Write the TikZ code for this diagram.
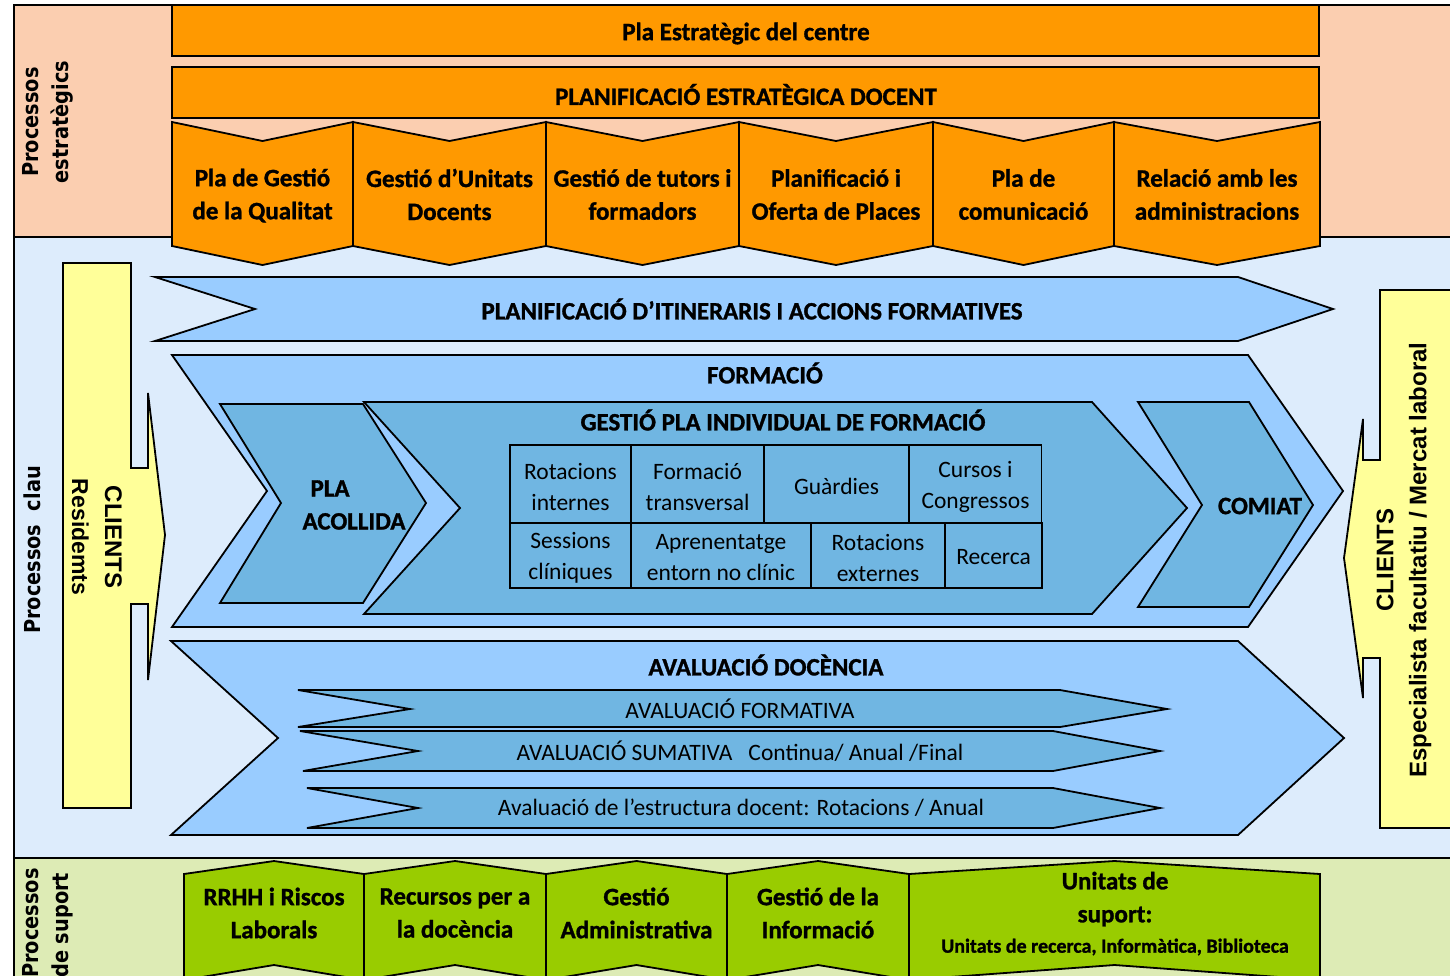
\documentclass[tikz,border=0pt]{standalone}
\usepackage{fontspec}
\setmainfont{Carlito}[BoldFeatures={FakeBold=1.2}]
\newfontfamily\sidefont{DejaVu Sans}[FakeStretch=0.88]
\newfontfamily\arialfont{Liberation Sans}

\definecolor{peach}{RGB}{251,206,176}
\definecolor{orangebar}{RGB}{255,153,0}
\definecolor{keybg}{RGB}{221,236,252}
\definecolor{lightchev}{RGB}{153,204,255}
\definecolor{darkchev}{RGB}{112,182,226}
\definecolor{clientyellow}{RGB}{255,255,153}
\definecolor{supportbg}{RGB}{221,235,181}
\definecolor{supportgreen}{RGB}{153,204,0}

\tikzset{
  shapeline/.style={draw=black, line width=1.8pt, line join=miter},
  orangeshape/.style={shapeline, fill=orangebar},
  greenshape/.style={shapeline, fill=supportgreen},
  lightshape/.style={shapeline, fill=lightchev},
  darkshape/.style={shapeline, fill=darkchev},
  yellowshape/.style={shapeline, fill=clientyellow},
  boldtext/.style={font=\fontsize{25}{33}\selectfont\bfseries, align=center, inner sep=0pt},
  regtext/.style={font=\fontsize{23.5}{31}\selectfont, align=center, inner sep=0pt},
  smalltext/.style={font=\fontsize{20}{24}\selectfont\bfseries, align=center, inner sep=0pt},
  sidelabel/.style={font=\sidefont\fontsize{22}{30}\selectfont\bfseries, align=center, inner sep=0pt},
  clientlabel/.style={font=\arialfont\fontsize{24}{33}\selectfont\bfseries, align=center, inner sep=0pt},
  bar/.style={shapeline, fill=orangebar, minimum width=1147pt, minimum height=51pt,
    inner sep=0pt, outer sep=0pt},
  cell/.style={draw=black, line width=1.8pt, inner sep=0pt, outer sep=0pt},
}

% down-pointing chevron of the strategic row
\newcommand\dnchev[2]{\filldraw[orangeshape] (#1,122) -- ({(#1+#2)/2},141) -- (#2,122)
  -- (#2,246) -- ({(#1+#2)/2},265) -- (#1,246) -- cycle;}
% up-pointing chevron of the support row
\newcommand\upchev[2]{\filldraw[greenshape] (#1,874) -- ({(#1+#2)/2},861) -- (#2,874)
  -- (#2,980) -- ({(#1+#2)/2},965) -- (#1,980) -- cycle;}

\begin{document}
\begin{tikzpicture}[x=1pt,y=-1pt]
\useasboundingbox (0,0) rectangle (1450,975);
\clip (0,0) rectangle (1450,975);
\fill[white] (0,0) rectangle (1450,975);

% process bands
\fill[peach] (14,5) rectangle (1460,237);
\fill[keybg] (14,237) rectangle (1460,858);
\fill[supportbg] (14,858) rectangle (1460,985);
\draw[line width=2pt] (1460,5) -- (14,5) -- (14,985);
\draw[line width=2pt] (14,237) -- (1460,237);
\draw[line width=2pt] (14,858) -- (1460,858);

% strategic processes
\node[bar] (plaest) at (745.5,30.5) {};
\node[boldtext] (plaesttxt) at (746,33.5) {Pla Estratègic del centre};
\node[bar] (planest) at (745.5,92.5) {};
\node[boldtext] (planesttxt) at (746,94.5) {PLANIFICACIÓ ESTRATÈGICA DOCENT};

\dnchev{172}{353}
\dnchev{353}{546}
\dnchev{546}{739}
\dnchev{739}{933}
\dnchev{933}{1114}
\dnchev{1114}{1320}
\node[boldtext] (sq1) at (262.5,195.5) {Pla de Gestió\\de la Qualitat};
\node[boldtext] (sq2) at (449.5,194.5) {Gestió d’Unitats\\Docents};
\node[boldtext] (sq3) at (642.5,194.5) {Gestió de tutors i\\formadors};
\node[boldtext] (sq4) at (836,194.5) {Planificació i\\Oferta de Places};
\node[boldtext] (sq5) at (1023.5,194.5) {Pla de\\comunicació};
\node[boldtext] (sq6) at (1217,194.5) {Relació amb les\\administracions};

\node[sidelabel, rotate=90] (lblest) at (48,122) {Processos\\estratègics};

% key processes
\node[sidelabel, rotate=90] (lblclau) at (32,550) {Processos\ \ clau};

\filldraw[yellowshape] (63,263) -- (131,263) -- (131,468) -- (148,468) -- (148,393)
  -- (165,535) -- (148,680) -- (148,604) -- (131,604) -- (131,808) -- (63,808) -- cycle;
\node[clientlabel, rotate=-90] (clientin) at (97,537) {CLIENTS\\{\fontsize{23}{33}\selectfont\bfseries Residemts}};

\filldraw[yellowshape] (1380,290) -- (1460,290) -- (1460,828) -- (1380,828) -- (1380,658)
  -- (1363,658) -- (1363,698) -- (1344,558) -- (1363,419) -- (1363,460) -- (1380,460) -- cycle;
\node[clientlabel, rotate=90] (clientout) at (1404,560) {CLIENTS\\Especialista facultatiu / Mercat laboral};

\filldraw[lightshape] (155,277) -- (1238,277) -- (1333,309) -- (1238,341) -- (155,341) -- (255,309) -- cycle;
\node[boldtext] (planif) at (752,309) {PLANIFICACIÓ D’ITINERARIS I ACCIONS FORMATIVES};

\filldraw[lightshape] (172,355) -- (1248,355) -- (1343,491) -- (1248,627) -- (172,627) -- (267,491) -- cycle;
\node[boldtext] (formacio) at (765,373) {FORMACIÓ};

\filldraw[darkshape] (220,404) -- (363,404) -- (426,503) -- (363,603) -- (220,603) -- (281,503) -- cycle;
\node[boldtext, align=left] (acollida) at (354,505) {\hspace{8pt}PLA\\ACOLLIDA};

\filldraw[darkshape] (364,402) -- (1092,402) -- (1187,508) -- (1092,614) -- (364,614) -- (460,508) -- cycle;
\node[boldtext] (gestio) at (783,420) {GESTIÓ PLA INDIVIDUAL DE FORMACIÓ};

\filldraw[darkshape] (1138,402) -- (1249,402) -- (1313,505) -- (1249,607) -- (1138,607) -- (1202,505) -- cycle;
\node[boldtext] (comiat) at (1260,506) {COMIAT};

% activities of the individual plan: cell frames, then their labels
\node[cell, minimum width=121pt, minimum height=78pt] (rotint) at (570.5,484) {};
\node[cell, minimum width=133pt, minimum height=78pt] (ftrans) at (697.5,484) {};
\node[cell, minimum width=145pt, minimum height=78pt] (guard) at (836.5,484) {};
\node[cell, minimum width=132pt, minimum height=78pt] (cursos) at (975.5,484) {};
\node[cell, minimum width=121pt, minimum height=65pt] (sess) at (570.5,555.5) {};
\node[cell, minimum width=180pt, minimum height=65pt] (aprent) at (721,555.5) {};
\node[cell, minimum width=134pt, minimum height=65pt] (rotext) at (878,555.5) {};
\node[cell, minimum width=97pt, minimum height=65pt] (recerca) at (993.5,555.5) {};
\node[regtext] (rotinttxt) at (570.5,486.5) {Rotacions\\internes};
\node[regtext] (ftranstxt) at (697.5,486.5) {Formació\\transversal};
\node[regtext] (guardtxt) at (836.5,486) {Guàrdies};
\node[regtext] (cursostxt) at (975.5,486.5) {Cursos i\\Congressos};
\node[regtext] (sesstxt) at (570.5,558) {Sessions\\clíniques};
\node[regtext] (aprenttxt) at (721,558) {Aprenentatge\\entorn no clínic};
\node[regtext] (rotexttxt) at (878,558) {Rotacions\\externes};
\node[regtext] (recercatxt) at (993.5,557) {Recerca};

% evaluation
\filldraw[lightshape] (171,641) -- (1238,641) -- (1344,738) -- (1238,835) -- (171,835) -- (278,738) -- cycle;
\node[boldtext] (avdoc) at (766,665) {AVALUACIÓ DOCÈNCIA};

\filldraw[darkshape] (298,690) -- (1060,690) -- (1167,709) -- (1060,727) -- (298,727) -- (410,709) -- cycle;
\node[regtext] (avform) at (740,709) {AVALUACIÓ FORMATIVA};
\filldraw[darkshape] (300,731) -- (1053,731) -- (1160,751) -- (1053,771) -- (303,771) -- (418,751) -- cycle;
\node[regtext] (avsum) at (740,751) {AVALUACIÓ SUMATIVA\ \ \ Continua/ Anual /Final};
\filldraw[darkshape] (307,788) -- (1053,788) -- (1160,808) -- (1053,828) -- (307,828) -- (418,808) -- cycle;
\node[regtext] (avestr) at (741,808) {Avaluació de l’estructura docent: Rotacions / Anual};

% support processes
\node[sidelabel, rotate=90, align=left, anchor=west] (lblsup) at (48,978) {Processos\\de suport};

\upchev{184}{364}
\upchev{364}{546}
\upchev{546}{727}
\upchev{727}{909}
\upchev{909}{1320}
\node[boldtext] (sp1) at (274,913) {RRHH i Riscos\\Laborals};
\node[boldtext] (sp2) at (455,913) {Recursos per a\\la docència};
\node[boldtext] (sp3) at (636.5,913) {Gestió\\Administrativa};
\node[boldtext] (sp4) at (818,913) {Gestió de la\\Informació};
\node[boldtext] (sp5) at (1115,899) {Unitats de\\suport:};
\node[smalltext] (sp5b) at (1115,947) {Unitats de recerca, Informàtica, Biblioteca};
\end{tikzpicture}
\end{document}
